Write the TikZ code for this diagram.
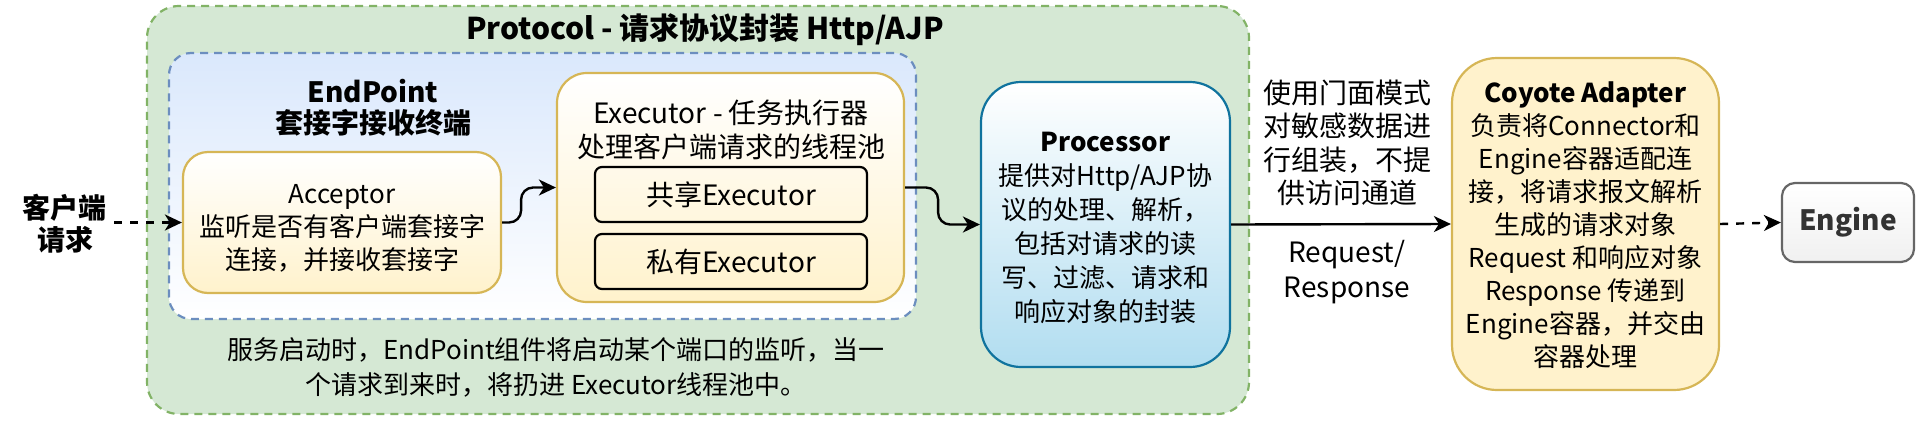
\documentclass[tikz,border=0pt]{standalone}
\usepackage{fontspec}
\setmainfont{Noto Sans CJK SC}
\usetikzlibrary{arrows.meta}
\definecolor{grfill}{HTML}{D5E8D4}
\definecolor{grline}{HTML}{82B366}
\definecolor{blfill}{HTML}{DAE8FC}
\definecolor{blline}{HTML}{6C8EBF}
\definecolor{ylfill}{HTML}{FFF2CC}
\definecolor{ylline}{HTML}{D6B656}
\definecolor{prfill}{HTML}{B1DDF0}
\definecolor{prline}{HTML}{10739E}
\definecolor{enfill}{HTML}{F0F0F0}
\definecolor{enline}{HTML}{666666}
\definecolor{entext}{HTML}{333333}
\tikzset{
  box/.style={draw, line width=2.2pt, inner sep=0pt, rounded corners=#1},
  box/.default=25pt,
  txt/.style={align=center, inner sep=0pt, font=\fontsize{26}{33}\selectfont},
  txtb/.style={align=center, inner sep=0pt, font=\fontsize{28}{35}\selectfont},
  conn/.style={line width=2.4pt, -{Stealth[length=17pt,width=16pt,inset=5pt]}},
  dconn/.style={conn, dash pattern=on 8pt off 8pt},
}
\begin{document}
\begin{tikzpicture}[x=1pt,y=-1pt]
\useasboundingbox (0,0) rectangle (1920,426);
% containers
\node[box=32pt, fill=grfill, draw=grline, dash pattern=on 8pt off 6pt, minimum width=1102pt, minimum height=408pt] (proto) at (698,210) {};
\node[box=22pt, top color=blfill, bottom color=white, draw=blline, dash pattern=on 8pt off 6pt, minimum width=747pt, minimum height=266pt] (endp) at (542.5,186) {};
% boxes
\node[box=25pt, top color=white, bottom color=ylfill, draw=ylline, minimum width=318pt, minimum height=141pt] (acc) at (342,222.5) {};
\node[box=30pt, top color=white, bottom color=ylfill, draw=ylline, minimum width=347pt, minimum height=229pt] (exec) at (730.5,187.5) {};
\node[box=7pt, draw=black, minimum width=272pt, minimum height=55pt] (shared) at (731,194.5) {};
\node[box=7pt, draw=black, minimum width=272pt, minimum height=55pt] (private) at (731,261.5) {};
\node[box=40pt, top color=white, bottom color=prfill, draw=prline, minimum width=249pt, minimum height=285pt] (proc) at (1105.5,224.5) {};
\node[box=45pt, fill=ylfill, draw=ylline, minimum width=267pt, minimum height=332pt] (coy) at (1585.5,224) {};
\node[box=13pt, top color=white, bottom color=enfill, draw=enline, minimum width=132pt, minimum height=79pt] (eng) at (1848,222.5) {};
% texts
\node[txtb, font=\bfseries\fontsize{28}{32}\selectfont] (client) at (65,224) {客户端\\请求};
\coordinate (clientEnd) at (114,222.5);
\node[txtb, font=\bfseries\fontsize{30}{34}\selectfont] (protoT) at (705,30) {Protocol - 请求协议封装 Http/AJP};
\node[txtb, font=\bfseries\fontsize{28}{31}\selectfont] (endpT) at (373,108) {EndPoint\\套接字接收终端};
\node[txt] (accT) at (342,228.5) {Acceptor\\监听是否有客户端套接字\\连接，并接收套接字};
\node[txtb, font=\fontsize{28}{34}\selectfont] (execT) at (731,130) {Executor - 任务执行器\\处理客户端请求的线程池};
\node[txtb] (sharedT) at (shared) {共享Executor};
\node[txtb] (privateT) at (private) {私有Executor};
\node[txt, font=\fontsize{26}{34}\selectfont] (procT) at (1105.5,228) {\textbf{Processor}\\提供对Http/AJP协\\议的处理、解析，\\包括对请求的读\\写、过滤、请求和\\响应对象的封装};
\node[txtb, font=\fontsize{28}{33.5}\selectfont] (facT) at (1347,143) {使用门面模式\\对敏感数据进\\行组装，不提\\供访问通道};
\node[txtb] (rrT) at (1347,272.5) {Request/\\Response};
\node[txt] (coyT) at (1585.5,225.5) {\textbf{Coyote Adapter}\\负责将Connector和\\Engine容器适配连\\接，将请求报文解析\\生成的请求对象\\Request 和响应对象\\Response 传递到\\Engine容器，并交由\\容器处理};
\node[txtb, text=entext, font=\bfseries\fontsize{28}{32}\selectfont] (engT) at (eng) {Engine};
\node[txt, font=\fontsize{26}{35}\selectfont] (noteT) at (556,367.5) {服务启动时，EndPoint组件将启动某个端口的监听，当一\\个请求到来时，将扔进 Executor线程池中。};
% connectors
\draw[dconn] (clientEnd) -- (acc.west);
\draw[conn, rounded corners=12pt] (acc.east) -- ++(19,0) |- (exec.west);
\draw[conn, rounded corners=12pt] (exec.east) -- ++(33,0) |- (proc.west);
\draw[conn] (proc.east) -- (coy.west);
\draw[dconn] (coy.east) -- (eng.west);
\end{tikzpicture}
\end{document}
